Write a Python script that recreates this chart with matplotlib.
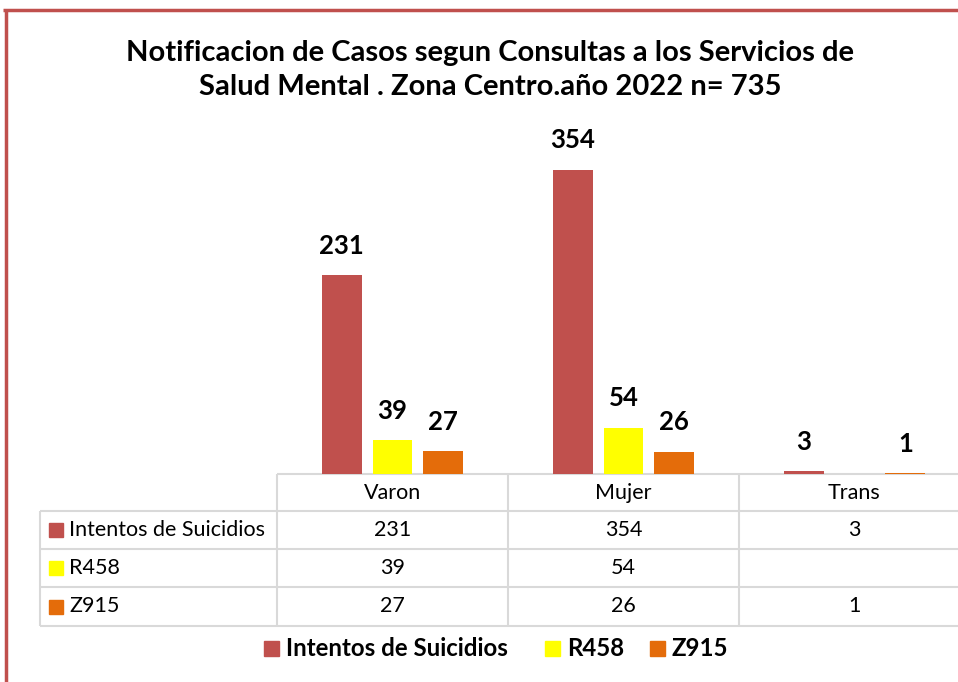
import numpy as np
import matplotlib
matplotlib.use("Agg")
import matplotlib.pyplot as plt
from matplotlib.transforms import blended_transform_factory

categories = ["Varon", "Mujer", "Trans"]
series = ["Intentos de Suicidios", "R458", "Z915"]
intentos = [231, 354, 3]
r458 = [39, 54, None]
z915 = [27, 26, 1]
colors = ["#c0504d", "#ffff00", "#e46c0a"]
title = "Notificacion de Casos segun Consultas a los Servicios de\nSalud Mental . Zona Centro.año 2022 n= 735"

plt.rcParams["font.family"] = ["Lato", "DejaVu Sans"]
W, H = 958, 682
fig = plt.figure(figsize=(W / 100, H / 100), dpi=100)

# overlay in pixel coords (y down)
ov = fig.add_axes([0, 0, 1, 1])
ov.set_xlim(0, W); ov.set_ylim(H, 0); ov.axis("off")

# chart area: 3 categories, 231 px each, starting at x=277, baseline y=474
ax = fig.add_axes([277 / W, (H - 474) / H, 231 * 3 / W, 344 / H])
ax.set_xlim(-0.5, 2.5)
ax.set_ylim(0, 400)
ax.axis("off")

data = [intentos, r458, z915]
x = np.arange(len(categories))
bw, gap = 0.173, 0.22
for j, (vals, col) in enumerate(zip(data, colors)):
    for i, v in enumerate(vals):
        if v is None:
            continue
        xi = x[i] + (j - 1) * gap
        ax.bar(xi, v, width=bw, color=col)
        ax.annotate(str(v), (xi, v), xytext=(0, 21), textcoords="offset points",
                    ha="center", va="center", fontsize=18.5, fontweight="bold",
                    annotation_clip=False)

# border
ov.plot([3, W], [10, 10], color="#c0504d", lw=2.5, solid_capstyle="butt")
ov.plot([6, 6], [10, H], color="#c0504d", lw=2.5, solid_capstyle="butt")

ov.text(490, 70, title, ha="center", va="center", fontsize=21, fontweight="bold",
        linespacing=1.35)

# data table
bt = blended_transform_factory(ax.transData, ov.transData)
grid = dict(color="#d9d9d9", lw=1.5, solid_capstyle="butt")
rows_y = [474, 511, 549, 587, 626]
ov.plot([277, W], [474, 474], **grid)
for y in rows_y[1:]:
    ov.plot([40, W], [y, y], **grid)
ov.plot([40, 40], [511, 626], **grid)
ov.plot([277, 277], [474, 626], **grid)
for b in [0.5, 1.5]:
    ov.plot([b, b], [474, 626], transform=bt, **grid)

for i, c in enumerate(categories):
    ov.text(x[i], 493, c, transform=bt, ha="center", va="center", fontsize=15.5)
for r, (name, vals, col) in enumerate(zip(series, data, colors)):
    yc = (rows_y[r + 1] + rows_y[r + 2]) / 2
    ov.add_patch(plt.Rectangle((49, yc - 7), 14, 14, color=col))
    ov.text(69, yc, name, ha="left", va="center", fontsize=15.5)
    for i, v in enumerate(vals):
        if v is not None:
            ov.text(x[i], yc, str(v), transform=bt, ha="center", va="center",
                    fontsize=15.5)

# legend
leg_x = [264, 545, 650]
for name, col, lx in zip(series, colors, leg_x):
    ov.add_patch(plt.Rectangle((lx, 641), 15, 15, color=col))
    ov.text(lx + 22, 648, name, ha="left", va="center", fontsize=17.3,
            fontweight="bold")

fig.savefig("out.png", dpi=100)
